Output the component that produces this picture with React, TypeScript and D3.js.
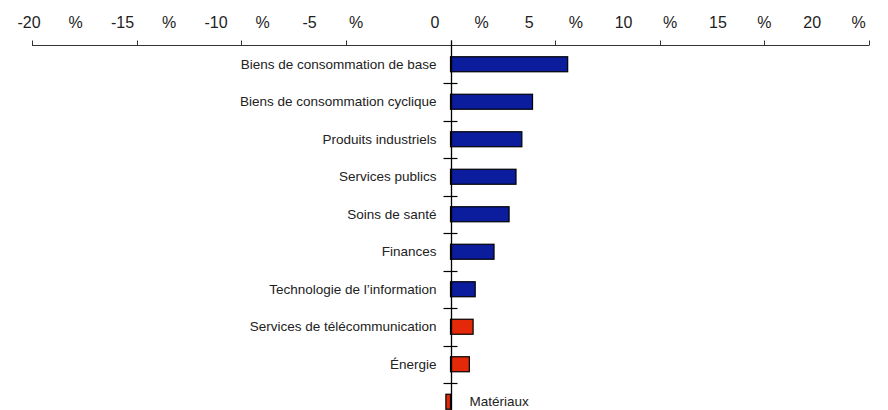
import React from "react";
import * as d3 from "d3";

const categories = [
  "Biens de consommation de base",
  "Biens de consommation cyclique",
  "Produits industriels",
  "Services publics",
  "Soins de santé",
  "Finances",
  "Technologie de l’information",
  "Services de télécommunication",
  "Énergie",
  "Matériaux",
];
const values = [5.6, 3.92, 3.41, 3.13, 2.8, 2.08, 1.18, 1.08, 0.9, -0.22];
const highlighted = [false, false, false, false, false, false, false, true, true, true];
const tickValues = [-20, -15, -10, -5, 0, 5, 10, 15, 20];

const W = 888;
const H = 410;
const BLUE = "#0b1c9c";
const RED = "#e3290a";
const TEXT = "#222";
const FONT = "'Liberation Sans', Arial, sans-serif";

export default function App() {
  const x = d3.scaleLinear().domain([-20, 20]).range([32, 869]);
  const y = d3
    .scaleBand<string>()
    .domain(categories)
    .range([45.5, 420.5])
    .paddingInner(0.6)
    .paddingOuter(0.3);
  const axisY = 45.5;
  const x0 = x(0);
  const step = y.step();
  const bw = y.bandwidth();

  // tick label layout (numbers and "%" spread like the source)
  const numX = (i: number) => (i < 4 ? 29 + i * 93.5 : 435 + (i - 4) * 94.3);
  const pctGap = 46.5;

  return (
    <svg
      width={W}
      height={H}
      style={{ position: "absolute", left: 0, top: 0, background: "#fff" }}
      fontFamily={FONT}
    >
      {/* top axis */}
      <line x1={x(-20)} x2={x(20)} y1={axisY} y2={axisY} stroke="#333" strokeWidth={1} />
      {tickValues.map((v, i) => (
        <g key={v}>
          <line
            x1={Math.round(x(v)) + 0.5}
            x2={Math.round(x(v)) + 0.5}
            y1={axisY - 5}
            y2={axisY}
            stroke="#333"
          />
          <text x={numX(i)} y={28} textAnchor="middle" fontSize={16} fill={TEXT}>
            {v}
          </text>
          <text x={numX(i) + pctGap} y={28} textAnchor="middle" fontSize={16} fill={TEXT}>
            %
          </text>
        </g>
      ))}

      {/* bars */}
      {categories.map((c, i) => {
        const v = values[i];
        const bx = Math.min(x(0), x(v));
        const w = Math.abs(x(v) - x(0));
        return (
          <rect
            key={c}
            x={bx}
            y={(y(c) as number)}
            width={w}
            height={bw}
            fill={highlighted[i] ? RED : BLUE}
            stroke="#000"
            strokeWidth={1.2}
          />
        );
      })}

      {/* vertical axis */}
      <line
        x1={Math.round(x0) + 0.5}
        x2={Math.round(x0) + 0.5}
        y1={axisY - 5}
        y2={H}
        stroke="#000"
        strokeWidth={1.3}
      />
      {categories.slice(0, categories.length - 1).map((c) => {
        const ty = Math.round((y(c) as number) + bw / 2 + step / 2) + 0.5;
        return (
          <line key={"t" + c} x1={x0 - 7} x2={x0 + 7} y1={ty} y2={ty} stroke="#000" strokeWidth={1.2} />
        );
      })}

      {/* category labels */}
      {categories.map((c, i) => {
        const v = values[i];
        const cy = (y(c) as number) + bw / 2;
        return (
          <text
            key={"l" + c}
            x={v >= 0 ? x0 - 14 : x0 + 19}
            y={cy}
            dy="0.35em"
            textAnchor={v >= 0 ? "end" : "start"}
            fontSize={13.5}
            fill={TEXT}
          >
            {c}
          </text>
        );
      })}
    </svg>
  );
}
